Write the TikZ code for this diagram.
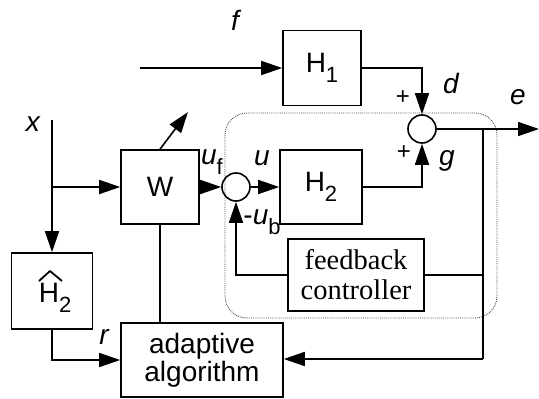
\documentclass[tikz,border=0pt]{standalone}
\usepackage{fontspec}
\setmainfont{Liberation Serif}
\setsansfont{Liberation Sans}
\usetikzlibrary{arrows.meta}
\newcommand\mysub[1]{\raisebox{-0.36em}{\fontsize{22}{22}\selectfont #1}}
\begin{document}
\begin{tikzpicture}[x=1pt,y=-1pt,
  blk/.style={draw, line width=1.6pt, inner sep=0pt, align=center,
    font=\sffamily\fontsize{28}{28}\selectfont},
  serifblk/.style={blk, font=\rmfamily\fontsize{28.5}{30}\selectfont},
  sumc/.style={draw, circle, line width=1.6pt, minimum size=28pt, inner sep=0pt},
  wire/.style={line width=1.6pt},
  arr/.style={wire, -{Triangle[length=21pt,width=14pt]}},
  lbl/.style={font=\sffamily\itshape\fontsize{28}{28}\selectfont, inner sep=0pt},
  pm/.style={font=\sffamily\fontsize{24}{24}\selectfont, inner sep=0pt},
  group/.style={draw=black!70, densely dotted, line width=0.9pt, rounded corners=22pt}
]
\useasboundingbox (0,0) rectangle (539,399);

% group boundary
\draw[group] (225,113) rectangle (497,318);

% blocks
\node[blk, minimum width=78pt, minimum height=75pt] (H1) at (322,68) {H\mysub{1}};
\node[blk, minimum width=82pt, minimum height=74pt] (H2) at (321,187) {H\mysub{2}};
\node[blk, minimum width=78pt, minimum height=74pt] (W) at (160,187) {W};
\node[blk, minimum width=81pt, minimum height=76pt] (H2h) at (52,291) {};
\node[blk, draw=none, anchor=base west] (H2ht) at (38,302) {H\mysub{2}};
\node[blk, minimum width=162pt, minimum height=74pt] (AA) at (202,360) {adaptive\\algorithm};
\node[serifblk, minimum width=136pt, minimum height=72pt] (FC) at (356,275) {feedback\\controller};
\node[sumc] (S1) at (422,129) {};
\node[sumc] (S2) at (236,187) {};

% hat over H2 estimate
\draw[line width=1.8pt, line join=round] (39,281) -- (50,271) -- (62,281);

% free ends
\coordinate (fin) at (140,68);
\coordinate (xin) at (52,120);
\coordinate (xbr) at (52,187);
\coordinate (eout) at (539,129);
\coordinate (tap) at (483,129);
\coordinate (tapb) at (483,359);
\coordinate (tapf) at (483,275);
\coordinate (wadj) at (188,112);

% connectors
\draw[arr] (fin) -- (H1.west);
\draw[arr] (H1.east) -| (S1.north);
\draw[arr] (H2.east) -| (S1.south);
\draw[arr] (S1.east) -- (eout);
\draw[wire] (tap) -- (tapb);
\draw[arr] (tapb) -- (AA.east |- tapb);
\draw[wire] (FC.east) -- (tapf);
\draw[arr] (FC.west) -| (S2.south);
\draw[arr] (S2.east) -- (H2.west);
\draw[arr] (W.east) -- (S2.west);
\draw[arr] (xin) -- (H2h.north);
\draw[arr] (xbr) -- (W.west);
\draw[wire] (W.south) -- (W.south |- AA.north);
\draw[arr] (H2h.south) |- (AA.west);
\draw[arr] (W.north) -- (wadj);

% labels
\node[lbl] (lf) at (235,20) {f};
\node[lbl] (lx) at (33,124) {x};
\node[lbl] (luf) at (212,162) {u\mysub{\upshape f}};
\node[lbl] (lu) at (262,158) {u};
\node[lbl] (lub) at (262,222) {\upshape-\itshape u\mysub{\upshape b}};
\node[pm] (p1) at (403,98) {+};
\node[pm] (p2) at (404,153) {+};
\node[lbl] (ld) at (451,83) {d};
\node[lbl] (lg) at (447,161) {g};
\node[lbl] (le) at (518,97) {e};
\node[lbl] (lr) at (104,337) {r};
\end{tikzpicture}
\end{document}
